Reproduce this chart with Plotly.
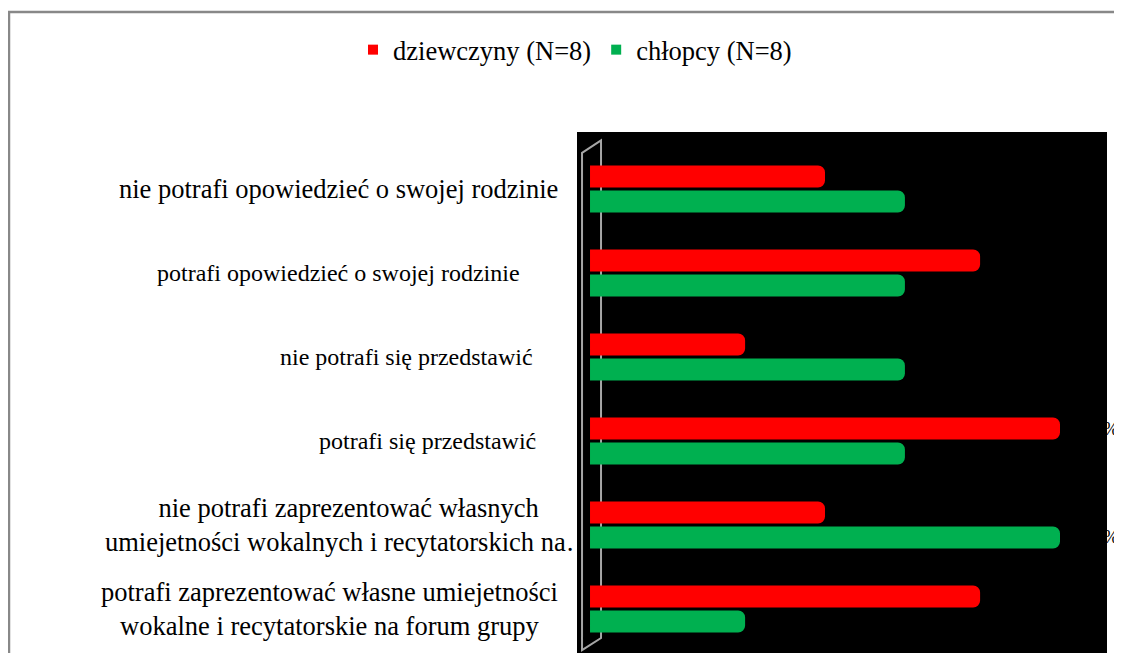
import plotly.graph_objects as go

# categories listed bottom -> top
categories = [
    "potrafi zaprezentować własne umiejetności wokalne i recytatorskie na forum grupy",
    "nie potrafi zaprezentować własnych umiejetności wokalnych i recytatorskich na forum grupy",
    "potrafi się przedstawić",
    "nie potrafi się przedstawić",
    "potrafi opowiedzieć o swojej rodzinie",
    "nie potrafi opowiedzieć o swojej rodzinie",
]
label_lines = [
    ["potrafi zaprezentować własne umiejetności", "wokalne i recytatorskie na forum grupy"],
    ["nie potrafi zaprezentować własnych", "umiejetności wokalnych i recytatorskich na…"],
    ["potrafi się przedstawić"],
    ["nie potrafi się przedstawić"],
    ["potrafi opowiedzieć o swojej rodzinie"],
    ["nie potrafi opowiedzieć o swojej rodzinie"],
]
girls = [83, 50, 100, 33, 83, 50]
boys = [33, 100, 67, 67, 67, 67]

RED = "#FF0000"
GREEN = "#00B050"
FONT = "Liberation Serif"

fig = go.Figure()
fig.add_trace(go.Bar(
    y=categories, x=boys, orientation="h", name="chłopcy (N=8)",
    marker=dict(color=GREEN, cornerradius=7, line=dict(width=0)),
    texttemplate="\u00a0\u00a0\u00a0%{x:.0f}%", textposition="outside",
    textfont=dict(color="black", size=18, family=FONT), cliponaxis=False,
    showlegend=False,
))
fig.add_trace(go.Bar(
    y=categories, x=girls, orientation="h", name="dziewczyny (N=8)",
    marker=dict(color=RED, cornerradius=7, line=dict(width=0)),
    texttemplate="\u00a0\u00a0\u00a0%{x:.0f}%", textposition="outside",
    textfont=dict(color="black", size=18, family=FONT), cliponaxis=False,
    showlegend=False,
))
# legend entries with square keys
fig.add_trace(go.Scatter(x=[None], y=[None], mode="markers", name="dziewczyny (N=8)",
                         marker=dict(symbol="square", size=10, color=RED)))
fig.add_trace(go.Scatter(x=[None], y=[None], mode="markers", name="chłopcy (N=8)",
                         marker=dict(symbol="square", size=10, color=GREEN)))

# category labels (sizes vary like in the original)
label_x = [329, 348, 427, 406, 338, 338]
label_size = [26.5, 26.5, 24, 24, 24, 26.5]
W_PLOT = 530.0
annotations = []
for cat, lines, px, sz in zip(categories, label_lines, label_x, label_size):
    annotations.append(dict(
        x=(px - 577) / W_PLOT, xref="paper", y=cat, yref="y",
        text="<br>".join(lines), showarrow=False, xanchor="center",
        yanchor="middle", align="center",
        font=dict(family=FONT, size=sz, color="black"),
    ))

wall = "#A6A6A6"
shapes = [
    # pseudo 3D wall of the category axis
    dict(type="path", xref="x", yref="y", layer="below",
         path="M -1.7,5.43 L 2.34,5.58 L 2.34,-0.345 L -1.7,-0.49 Z",
         line=dict(color=wall, width=2)),
    # outer chart border (left + top)
    dict(type="path", xref="paper", yref="paper", layer="above",
         path="M -1.0717,-0.2 L -1.0717,1.2303 L 1.2,1.2303",
         line=dict(color="#888888", width=2.5)),
]

fig.update_layout(
    width=1114, height=645,
    margin=dict(l=569, r=15, t=124, b=0),
    paper_bgcolor="white", plot_bgcolor="black",
    barmode="group", bargap=0.405, bargroupgap=0.12,
    font=dict(family=FONT, size=20, color="black"),
    showlegend=True,
    legend=dict(orientation="h", xref="container", yref="container",
                x=0.509, y=0.935, xanchor="center", yanchor="middle",
                font=dict(size=26.5, family=FONT), itemwidth=30),
    xaxis=dict(range=[-2.77, 110], showgrid=False, zeroline=False,
               showticklabels=False, showline=False),
    yaxis=dict(range=[-0.524, 5.679], showgrid=False, zeroline=False,
               showticklabels=False, showline=False,
               categoryorder="array", categoryarray=categories),
    annotations=annotations,
    shapes=shapes,
)

fig.write_html("out.html")
